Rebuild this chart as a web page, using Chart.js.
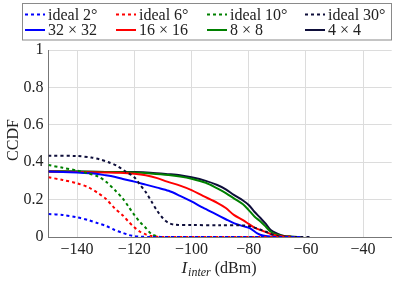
<!DOCTYPE html>
<html>
<head>
<meta charset="utf-8">
<script src="https://cdn.jsdelivr.net/npm/chart.js@4.4.1/dist/chart.umd.min.js"></script>
<style>
html,body{margin:0;padding:0;background:#fff;}
#wrap{width:395px;height:283px;position:relative;}
</style>
</head>
<body>
<div id="wrap"><canvas id="c" width="395" height="283"></canvas></div>
<script>
const seriesLabels = ["ideal 2°","ideal 6°","ideal 10°","ideal 30°","32 × 32","16 × 16","8 × 8","4 × 4"];
const xTicks = [-140,-120,-100,-80,-60,-40];
const yTicks = [0,0.2,0.4,0.6,0.8,1];

const ideal2X = [-150,-145,-140,-136,-132.6,-130,-126.8,-124,-122,-120,-118,-115,-62];
const ideal2Y = [0.123,0.118,0.105,0.09,0.073,0.06,0.037,0.022,0.011,0.005,0.002,0,0];

const ideal6X = [-150,-145,-140,-136,-132.6,-130,-126.8,-124,-122,-120,-118,-116,-114,-112,-110,-64];
const ideal6Y = [0.319,0.305,0.287,0.265,0.234,0.205,0.153,0.115,0.082,0.052,0.028,0.014,0.005,0.001,0,0];

const ideal10X = [-150,-145,-140,-136,-132.6,-130,-126.8,-124,-122,-120,-118,-116.2,-114,-112,-110,-64];
const ideal10Y = [0.385,0.37,0.355,0.34,0.323,0.297,0.251,0.205,0.162,0.118,0.08,0.052,0.016,0.004,0,0];

const ideal30X = [-150,-140,-135,-132,-129,-126,-123,-120,-118,-116,-114,-112,-110,-108,-106,-100,-90,-82,-79,-76,-74,-72,-70,-67,-63,-58];
const ideal30Y = [0.435,0.433,0.425,0.415,0.40,0.38,0.35,0.32,0.28,0.24,0.19,0.14,0.10,0.075,0.066,0.064,0.063,0.062,0.055,0.04,0.028,0.015,0.006,0.002,0,0];

const ant32X = [-150,-145,-140,-135,-130,-127,-124,-120,-116,-112,-108,-104,-100,-96,-92,-88,-85,-82,-79.5,-77,-75,-72,-70,-62];
const ant32Y = [0.35,0.348,0.345,0.341,0.33,0.322,0.31,0.296,0.28,0.264,0.247,0.22,0.19,0.157,0.126,0.095,0.073,0.058,0.046,0.02,0.008,0.002,0,0];

const ant16X = [-150,-140,-130,-125,-120,-116,-112,-108.5,-104,-100,-96,-91,-88,-85.2,-82,-80,-78,-75.8,-72.3,-70,-67.6,-65,-62];
const ant16Y = [0.35,0.348,0.345,0.343,0.338,0.33,0.315,0.296,0.275,0.251,0.22,0.183,0.155,0.118,0.09,0.07,0.05,0.037,0.016,0.007,0.003,0,0];

const ant8X = [-150,-140,-130,-120,-114.4,-108,-104,-100,-95,-91,-88,-85.2,-82,-80,-78,-75.8,-74,-72.3,-70,-67.6,-65,-62];
const ant8Y = [0.352,0.35,0.348,0.345,0.34,0.332,0.324,0.312,0.29,0.26,0.235,0.207,0.175,0.144,0.11,0.082,0.055,0.028,0.012,0.004,0.001,0];

const ant4X = [-150,-140,-130,-120,-114.4,-108,-104,-100,-95,-91,-88,-85.2,-82,-80,-78,-75.8,-74,-72.3,-70,-67.6,-65,-62];
const ant4Y = [0.35,0.35,0.348,0.347,0.344,0.336,0.33,0.319,0.30,0.278,0.255,0.225,0.195,0.171,0.135,0.10,0.07,0.037,0.018,0.005,0.002,0];

const seriesX = [ideal2X,ideal6X,ideal10X,ideal30X,ant32X,ant16X,ant8X,ant4X];
const seriesY = [ideal2Y,ideal6Y,ideal10Y,ideal30Y,ant32Y,ant16Y,ant8Y,ant4Y];
const colors = ["#0000ff","#ff0000","#008000","#0e0e3a","#0000ff","#ff0000","#008000","#0e0e3a"];
const dashed = [true,true,true,true,false,false,false,false];

const SERIF = '"Liberation Serif", "DejaVu Serif", serif';

const datasets = seriesLabels.map((lab,i)=>({
  label: lab,
  data: seriesX[i].map((x,j)=>({x:x,y:seriesY[i][j]})),
  borderColor: colors[i],
  backgroundColor: colors[i],
  borderWidth: 2,
  borderDash: dashed[i] ? [3,3] : [],
  pointRadius: 0,
  tension: 0.3,
  fill: false
}));

const fmtMinus = v => v < 0 ? "\u2212" + Math.abs(v) : String(v);

const decor = {
  id: 'decor',
  afterDraw(chart){
    const ctx = chart.ctx;
    ctx.save();
    ctx.strokeStyle = '#8a8a8a';
    ctx.lineWidth = 1;
    ctx.strokeRect(22.5, 3.5, 369, 36.5);
    const colX = [25,116,207,305];
    const rowY = [14.5,30];
    ctx.font = '16px ' + SERIF;
    ctx.textBaseline = 'middle';
    ctx.textAlign = 'left';
    chart.data.datasets.forEach((ds,i)=>{
      const c = i % 4, r = Math.floor(i/4);
      const x = colX[c], y = rowY[r];
      ctx.beginPath();
      ctx.strokeStyle = ds.borderColor;
      ctx.lineWidth = 2;
      ctx.setLineDash(ds.borderDash);
      ctx.moveTo(x, y);
      ctx.lineTo(x+20, y);
      ctx.stroke();
      ctx.setLineDash([]);
      ctx.fillStyle = '#222';
      ctx.fillText(ds.label, x+23, y+1);
    });
    ctx.save();
    ctx.translate(14, 140);
    ctx.rotate(-Math.PI/2);
    ctx.textAlign = 'center';
    ctx.textBaseline = 'middle';
    ctx.font = '16px ' + SERIF;
    ctx.fillStyle = '#222';
    ctx.fillText('CCDF', 0, 0);
    ctx.restore();
    const f1 = 'italic 17px ' + SERIF, f2 = 'italic 12px ' + SERIF, f3 = '16px ' + SERIF;
    ctx.font = f1; const w1 = ctx.measureText('I').width;
    ctx.font = f2; const w2 = ctx.measureText('inter').width;
    ctx.font = f3; const w3 = ctx.measureText(' (dBm)').width;
    let x0 = 219 - (w1+w2+w3+1)/2;
    const base = 273;
    ctx.textAlign = 'left';
    ctx.textBaseline = 'alphabetic';
    ctx.fillStyle = '#222';
    ctx.font = f1; ctx.fillText('I', x0, base); x0 += w1 + 1;
    ctx.font = f2; ctx.fillText('inter', x0, base + 3); x0 += w2;
    ctx.font = f3; ctx.fillText(' (dBm)', x0, base);
    ctx.restore();
  }
};

new Chart(document.getElementById('c'), {
  type: 'line',
  data: { datasets: datasets },
  options: {
    responsive: false,
    animation: false,
    layout: { padding: { top: 50, right: 3.3, left: 0, bottom: 0 } },
    plugins: { legend: { display: false }, tooltip: { enabled: false } },
    scales: {
      x: {
        type: 'linear',
        min: -150, max: -30,
        afterBuildTicks: s => { s.ticks = xTicks.map(v=>({value:v})); },
        afterFit: s => { s.height = 46; },
        grid: { color: '#dcdcdc', drawTicks: false, lineWidth: 1 },
        border: { color: '#777', width: 1 },
        ticks: { padding: 3, color: '#222', font: { family: SERIF, size: 16 }, callback: v => fmtMinus(v), maxRotation: 0 }
      },
      y: {
        type: 'linear',
        min: 0, max: 1,
        afterBuildTicks: s => { s.ticks = yTicks.map(v=>({value:v})); },
        afterFit: s => { s.width = 48.5; },
        grid: { color: '#dcdcdc', drawTicks: false, lineWidth: 1 },
        border: { color: '#777', width: 1 },
        ticks: { padding: 5, color: '#222', font: { family: SERIF, size: 16 }, callback: v => (v===0||v===1) ? String(v) : v.toFixed(1) }
      }
    }
  },
  plugins: [decor]
});
</script>
</body>
</html>
